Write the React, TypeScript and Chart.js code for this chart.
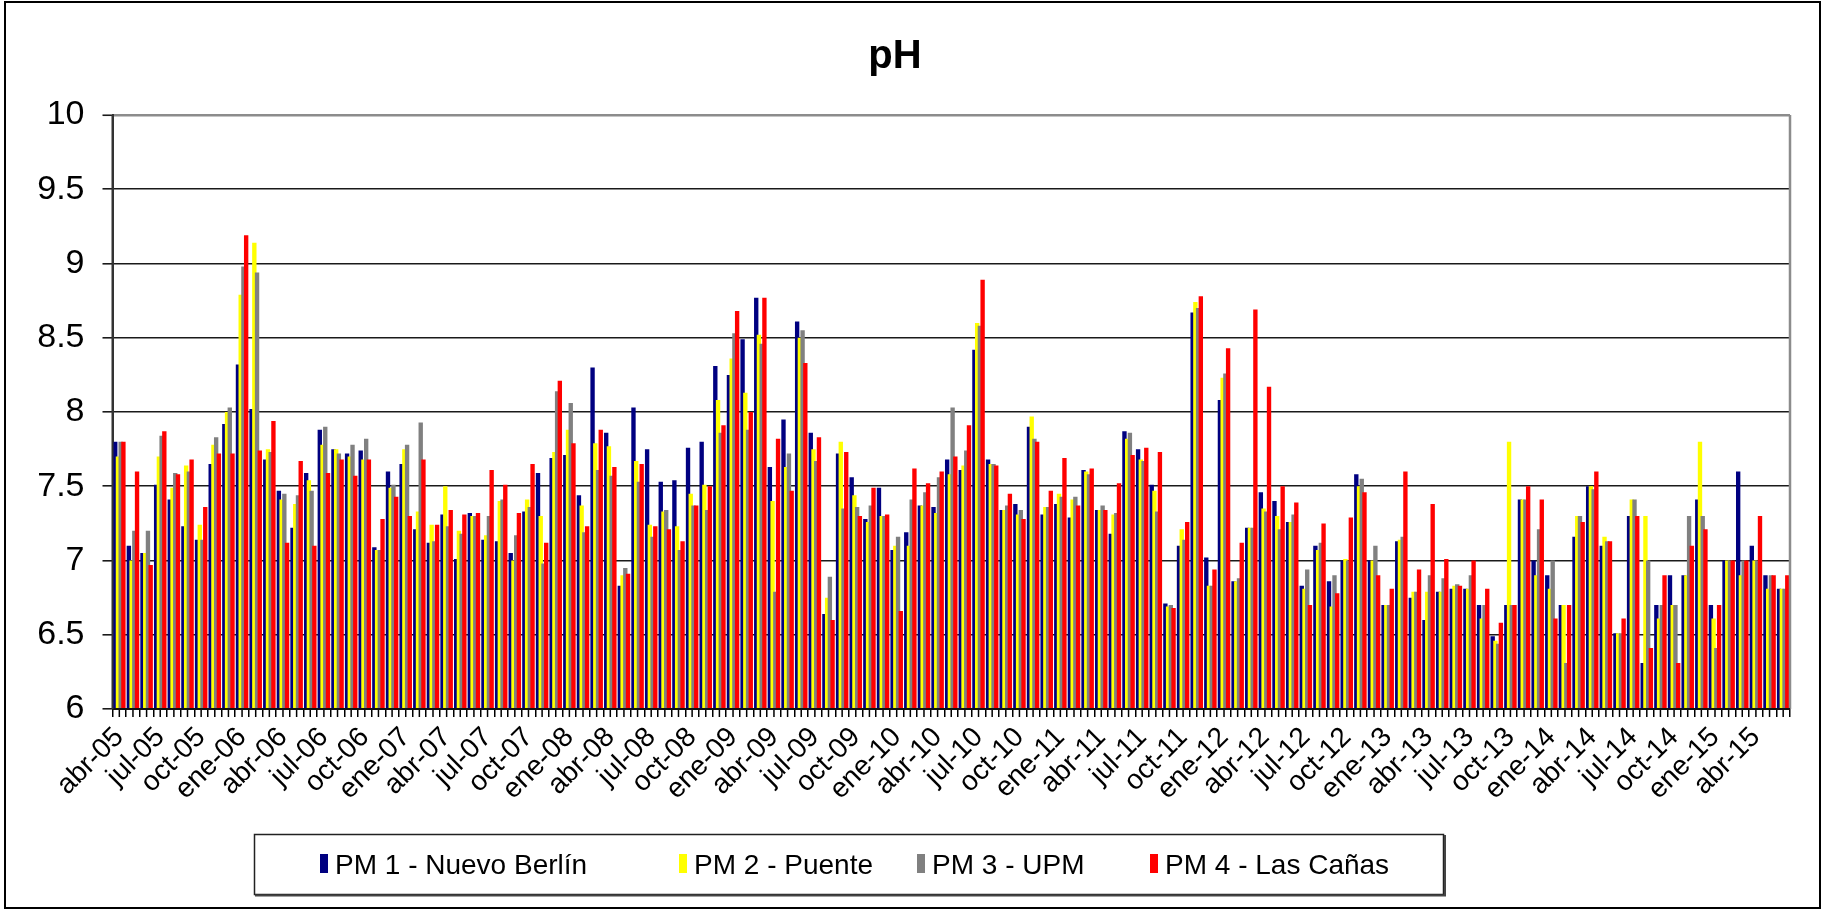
import React, { useEffect, useRef } from 'react';
import { Chart, registerables } from 'chart.js';

Chart.register(...registerables);

const FONT = "'Liberation Sans', Arial, Helvetica, sans-serif";

// Categories (monthly, abr-05 .. jun-15)
const months: string[] = [
  'abr-05', 'may-05', 'jun-05', 'jul-05', 'ago-05', 'sep-05', 'oct-05', 'nov-05', 'dic-05',
  'ene-06', 'feb-06', 'mar-06', 'abr-06', 'may-06', 'jun-06', 'jul-06', 'ago-06', 'sep-06', 'oct-06', 'nov-06', 'dic-06',
  'ene-07', 'feb-07', 'mar-07', 'abr-07', 'may-07', 'jun-07', 'jul-07', 'ago-07', 'sep-07', 'oct-07', 'nov-07', 'dic-07',
  'ene-08', 'feb-08', 'mar-08', 'abr-08', 'may-08', 'jun-08', 'jul-08', 'ago-08', 'sep-08', 'oct-08', 'nov-08', 'dic-08',
  'ene-09', 'feb-09', 'mar-09', 'abr-09', 'may-09', 'jun-09', 'jul-09', 'ago-09', 'sep-09', 'oct-09', 'nov-09', 'dic-09',
  'ene-10', 'feb-10', 'mar-10', 'abr-10', 'may-10', 'jun-10', 'jul-10', 'ago-10', 'sep-10', 'oct-10', 'nov-10', 'dic-10',
  'ene-11', 'feb-11', 'mar-11', 'abr-11', 'may-11', 'jun-11', 'jul-11', 'ago-11', 'sep-11', 'oct-11', 'nov-11', 'dic-11',
  'ene-12', 'feb-12', 'mar-12', 'abr-12', 'may-12', 'jun-12', 'jul-12', 'ago-12', 'sep-12', 'oct-12', 'nov-12', 'dic-12',
  'ene-13', 'feb-13', 'mar-13', 'abr-13', 'may-13', 'jun-13', 'jul-13', 'ago-13', 'sep-13', 'oct-13', 'nov-13', 'dic-13',
  'ene-14', 'feb-14', 'mar-14', 'abr-14', 'may-14', 'jun-14', 'jul-14', 'ago-14', 'sep-14', 'oct-14', 'nov-14', 'dic-14',
  'ene-15', 'feb-15', 'mar-15', 'abr-15', 'may-15', 'jun-15',
];

// PM 1 - Nuevo Berlín
const pm1: number[] = [
  7.80, 7.10, 7.05, 7.51, 7.41, 7.23, 7.14, 7.65, 7.92,
  8.32, 8.02, 7.68, 7.47, 7.22, 7.59, 7.88, 7.75, 7.72, 7.74, 7.09, 7.60,
  7.65, 7.21, 7.12, 7.31, 7.01, 7.32, 7.14, 7.13, 7.05, 7.33, 7.59, 7.69,
  7.71, 7.44, 8.30, 7.86, 6.83, 8.03, 7.75, 7.53, 7.54, 7.76, 7.80, 8.31,
  8.25, 8.49, 8.77, 7.63, 7.95, 8.61, 7.86, 6.64, 7.72, 7.56, 7.28, 7.49,
  7.07, 7.19, 7.37, 7.36, 7.68, 7.61, 8.42, 7.68, 7.34, 7.38, 7.90, 7.31,
  7.38, 7.29, 7.61, 7.34, 7.18, 7.87, 7.75, 7.51, 6.71, 7.10, 8.67, 7.02,
  8.08, 6.86, 7.22, 7.46, 7.40, 7.26, 6.83, 7.10, 6.86, 7.00, 7.58, 7.00,
  6.70, 7.13, 6.75, 6.60, 6.79, 6.81, 6.81, 6.70, 6.49, 6.70, 7.41, 7.00,
  6.90, 6.70, 7.16, 7.50, 7.10, 6.51, 7.30, 6.31, 6.70, 6.90, 6.90, 7.41,
  6.70, 7.00, 7.60, 7.10, 6.90, 6.81,
];

// PM 2 - Puente
const pm2: number[] = [
  7.70, 7.00, 7.05, 7.70, 7.49, 7.64, 7.24, 7.78, 8.00,
  8.79, 9.14, 7.75, 7.41, 7.38, 7.54, 7.78, 7.75, 7.70, 7.68, 7.07, 7.49,
  7.75, 7.33, 7.24, 7.50, 7.20, 7.30, 7.17, 7.40, 7.00, 7.41, 7.30, 7.73,
  7.88, 7.37, 7.79, 7.77, 6.90, 7.67, 7.24, 7.33, 7.23, 7.45, 7.51, 8.08,
  8.36, 8.13, 8.52, 7.40, 7.63, 8.50, 7.75, 6.75, 7.80, 7.44, 7.26, 7.30,
  7.10, 7.10, 7.37, 7.32, 7.58, 7.64, 8.60, 7.65, 7.34, 7.31, 7.97, 7.36,
  7.45, 7.41, 7.60, 7.34, 7.31, 7.82, 7.68, 7.47, 6.69, 7.21, 8.74, 6.83,
  8.23, 6.86, 7.22, 7.35, 7.30, 7.26, 6.81, 7.07, 6.69, 7.01, 7.50, 7.00,
  6.70, 7.14, 6.79, 6.79, 6.79, 6.83, 6.81, 6.61, 6.46, 7.80, 7.41, 6.90,
  6.81, 6.70, 7.30, 7.50, 7.16, 6.51, 7.41, 7.30, 6.61, 6.70, 6.90, 7.80,
  6.61, 7.00, 6.90, 7.00, 6.81, 6.81,
];

// PM 3 - UPM
const pm3: number[] = [
  7.80, 7.20, 7.20, 7.84, 7.59, 7.60, 7.14, 7.83, 8.03,
  8.98, 8.94, 7.73, 7.45, 7.44, 7.47, 7.90, 7.72, 7.78, 7.82, 7.07, 7.51,
  7.78, 7.93, 7.13, 7.23, 7.18, 7.30, 7.30, 7.41, 7.17, 7.36, 6.98, 8.14,
  8.06, 7.19, 7.61, 7.57, 6.95, 7.53, 7.16, 7.34, 7.07, 7.37, 7.34, 7.86,
  8.53, 7.88, 8.46, 6.79, 7.72, 8.55, 7.67, 6.89, 7.35, 7.36, 7.37, 7.30,
  7.16, 7.41, 7.46, 7.56, 8.03, 7.74, 8.58, 7.65, 7.37, 7.34, 7.82, 7.36,
  7.43, 7.43, 7.58, 7.37, 7.32, 7.86, 7.67, 7.33, 6.70, 7.14, 8.70, 6.83,
  8.26, 6.88, 7.22, 7.33, 7.21, 7.31, 6.94, 7.12, 6.90, 7.00, 7.55, 7.10,
  6.70, 7.16, 6.79, 6.90, 6.88, 6.84, 6.90, 6.70, 6.44, 6.70, 7.41, 7.21,
  7.00, 6.31, 7.30, 7.48, 7.13, 6.51, 7.41, 7.00, 6.70, 6.70, 7.30, 7.30,
  6.41, 7.00, 7.00, 7.00, 6.90, 6.81,
];

// PM 4 - Las Cañas
const pm4: number[] = [
  7.80, 7.60, 6.97, 7.87, 7.58, 7.68, 7.36, 7.72, 7.72,
  9.19, 7.74, 7.94, 7.12, 7.67, 7.10, 7.59, 7.68, 7.57, 7.68, 7.28, 7.43,
  7.30, 7.68, 7.24, 7.34, 7.31, 7.32, 7.61, 7.51, 7.32, 7.65, 7.12, 8.21,
  7.79, 7.23, 7.88, 7.63, 6.91, 7.65, 7.23, 7.21, 7.13, 7.37, 7.50, 7.91,
  8.68, 8.00, 8.77, 7.82, 7.47, 8.33, 7.83, 6.60, 7.73, 7.30, 7.49, 7.31,
  6.66, 7.62, 7.52, 7.60, 7.70, 7.91, 8.89, 7.64, 7.45, 7.28, 7.80, 7.47,
  7.69, 7.37, 7.62, 7.34, 7.52, 7.71, 7.76, 7.73, 6.68, 7.26, 8.78, 6.94,
  8.43, 7.12, 8.69, 8.17, 7.50, 7.39, 6.70, 7.25, 6.78, 7.29, 7.46, 6.90,
  6.81, 7.60, 6.94, 7.38, 7.01, 6.83, 7.00, 6.81, 6.58, 6.70, 7.50, 7.41,
  6.61, 6.70, 7.26, 7.60, 7.13, 6.61, 7.30, 6.41, 6.90, 6.31, 7.10, 7.21,
  6.70, 7.00, 7.00, 7.30, 6.90, 6.90,
];

const seriesNames: string[] = ['PM 1 - Nuevo Berlín', 'PM 2 - Puente', 'PM 3 - UPM', 'PM 4 - Las Cañas'];
const seriesColors: string[] = ['#000080', '#FFFF00', '#808080', '#FF0000'];
const yTicks: number[] = [6, 6.5, 7, 7.5, 8, 8.5, 9, 9.5, 10];

// draw datasets in forward order so later series overlap earlier ones (like Excel)
const drawOrderPlugin = {
  id: 'drawOrder',
  beforeDatasetsDraw(chart: any) {
    const ctx = chart.ctx;
    const a = chart.chartArea;
    ctx.save();
    ctx.beginPath();
    ctx.rect(a.left, a.top, a.right - a.left, a.bottom - a.top);
    ctx.clip();
    chart.getSortedVisibleDatasetMetas().forEach((m: any) => m.controller.draw());
    ctx.restore();
    return false;
  },
};

const framePlugin = {
  id: 'frame',
  afterDraw(chart: any) {
    const ctx = chart.ctx;
    const a = chart.chartArea;
    const xs = chart.scales.x;
    ctx.save();
    // center tick marks (in addition to boundary ticks)
    ctx.strokeStyle = '#000';
    ctx.lineWidth = 1.5;
    for (let i = 0; i < months.length; i++) {
      const px = xs.getPixelForValue(i);
      ctx.beginPath();
      ctx.moveTo(px, a.bottom);
      ctx.lineTo(px, a.bottom + 8);
      ctx.stroke();
    }
    // right border gray
    ctx.strokeStyle = '#8c8c8c';
    ctx.lineWidth = 2.5;
    ctx.beginPath();
    ctx.moveTo(a.right, a.top);
    ctx.lineTo(a.right, a.bottom);
    ctx.stroke();
    // axes
    ctx.strokeStyle = '#111';
    ctx.lineWidth = 2;
    ctx.beginPath();
    ctx.moveTo(a.left, a.bottom);
    ctx.lineTo(a.right, a.bottom);
    ctx.stroke();
    ctx.strokeStyle = '#333';
    ctx.beginPath();
    ctx.moveTo(a.left, a.top);
    ctx.lineTo(a.left, a.bottom);
    ctx.stroke();
    // outer border
    ctx.strokeStyle = '#000';
    ctx.lineWidth = 2;
    ctx.strokeRect(5, 2, 1815, 906);

    // legend box
    ctx.lineWidth = 1.5;
    ctx.strokeStyle = '#222';
    ctx.strokeRect(254.5, 834.5, 1189, 60);
    ctx.lineWidth = 2;
    ctx.strokeStyle = '#444';
    ctx.beginPath();
    ctx.moveTo(255, 895.5);
    ctx.lineTo(1445, 895.5);
    ctx.lineTo(1445, 835);
    ctx.stroke();

    const itemX = [320, 679, 917, 1150];
    ctx.font = `28px ${FONT}`;
    ctx.textBaseline = 'alphabetic';
    ctx.textAlign = 'left';
    chart.data.datasets.forEach((ds: any, i: number) => {
      ctx.fillStyle = ds.backgroundColor;
      ctx.fillRect(itemX[i], 854, 8, 19);
      ctx.fillStyle = '#000';
      ctx.fillText(ds.label, itemX[i] + 15, 874);
    });
    ctx.restore();
  },
};

export default function App() {
  const canvasRef = useRef<HTMLCanvasElement | null>(null);

  useEffect(() => {
    document.body.style.margin = '0';
    const canvas = canvasRef.current;
    if (!canvas) return;
    const series = [pm1, pm2, pm3, pm4];
    const chart = new Chart(canvas, {
      type: 'bar',
      data: {
        labels: months,
        datasets: series.map((d, i) => ({
          label: seriesNames[i],
          data: d,
          backgroundColor: seriesColors[i],
          borderWidth: 0,
          categoryPercentage: 0.8,
          barPercentage: 1.6,
        })),
      },
      options: {
        animation: false,
        responsive: false,
        devicePixelRatio: 1,
        layout: { padding: { left: 0, right: 35, top: 0, bottom: 96 } },
        plugins: {
          legend: { display: false },
          tooltip: { enabled: false },
          title: {
            display: true,
            text: 'pH',
            color: '#000',
            font: { family: FONT, size: 40, weight: 'bold' },
            padding: { top: 33, bottom: 34 },
          },
        },
        scales: {
          x: {
            grid: {
              display: true,
              drawOnChartArea: false,
              drawTicks: true,
              tickLength: 8,
              offset: true,
              color: '#000',
              lineWidth: 1.5,
            },
            border: { display: true, color: '#000', width: 2 },
            ticks: {
              autoSkip: false,
              minRotation: 45,
              maxRotation: 45,
              padding: 4,
              color: '#000',
              font: { family: FONT, size: 28 },
              callback: (_v: any, i: number) => (i % 3 === 0 ? months[i] : ''),
            },
            afterFit: (s: any) => {
              s.height = 106;
            },
          },
          y: {
            min: yTicks[0],
            max: yTicks[yTicks.length - 1],
            afterBuildTicks: (s: any) => {
              s.ticks = yTicks.map((v) => ({ value: v }));
            },
            ticks: {
              padding: 18,
              color: '#000',
              font: { family: FONT, size: 34 },
              callback: (v: any) => String(v),
            },
            grid: {
              color: (c: any) => (c.tick && c.tick.value === 10 ? '#8c8c8c' : '#1a1a1a'),
              lineWidth: (c: any) => (c.tick && c.tick.value === 10 ? 2.5 : 1.6),
              tickLength: 10,
              tickColor: '#1a1a1a',
              tickWidth: 1.6,
            },
            border: { display: true, color: '#333', width: 2 },
            afterFit: (s: any) => {
              s.width = 112.5;
            },
          },
        },
      },
      plugins: [drawOrderPlugin, framePlugin],
    } as any);
    return () => chart.destroy();
  }, []);

  return (
    <div style={{ width: 1825, height: 911, overflow: 'hidden', background: '#fff' }}>
      <canvas ref={canvasRef} width={1825} height={911} style={{ display: 'block' }} />
    </div>
  );
}
